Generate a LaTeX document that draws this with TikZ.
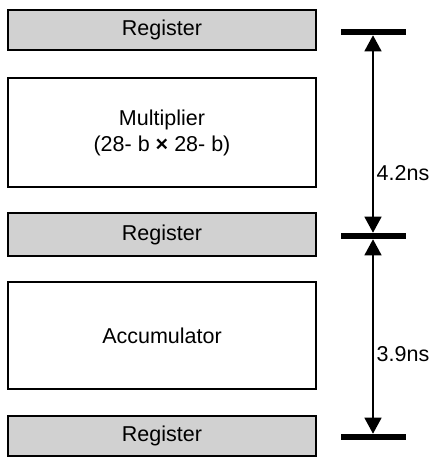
\documentclass[tikz,border=0pt]{standalone}
\usepackage{fontspec}
\setmainfont{Liberation Sans}
\usetikzlibrary{arrows.meta}

\begin{document}
\begin{tikzpicture}[x=1pt,y=-1pt,
    every node/.style={font=\fontsize{21.5}{25}\selectfont},
    reg/.style={draw, line width=1.4pt, fill=black!18, minimum width=308pt, minimum height=40pt, inner sep=0pt},
    unit/.style={draw, line width=1.4pt, fill=white, minimum width=308pt, inner sep=0pt, align=center},
    bar/.style={line width=6.5pt},
    dim/.style={line width=1.4pt, {Triangle[width=17pt,length=16pt]}-{Triangle[width=17pt,length=16pt]}, shorten <=3.3pt, shorten >=3.3pt}]
    \useasboundingbox (0,0) rectangle (439,459);
    \node[reg] (r1) at (162,30) {Register}; % input register
    \node[unit, minimum height=109pt] (mul) at (162,132.5) {Multiplier\\[1pt](28- b \textbf{×} 28- b)}; % multiplier
    \node[reg, minimum height=43pt] (r2) at (162,234.5) {Register}; % pipeline register
    \node[unit, minimum height=107pt] (acc) at (162,335.5) {Accumulator}; % accumulator
    \node[reg] (r3) at (162,436) {Register}; % output register
    \coordinate (t1) at (373,32);
    \coordinate (t2) at (373,236);
    \coordinate (t3) at (373,437);
    \draw[bar] ([xshift=-32pt]t1) -- ([xshift=33pt]t1); % top bar
    \draw[bar] ([xshift=-32pt]t2) -- ([xshift=33pt]t2); % middle bar
    \draw[bar] ([xshift=-32pt]t3) -- ([xshift=33pt]t3); % bottom bar
    \draw[dim] (t1) -- node[right, pos=0.69, inner sep=3pt] (d1) {4.2ns} (t2); % first stage
    \draw[dim] (t2) -- node[right, pos=0.59, inner sep=3pt] (d2) {3.9ns} (t3); % second stage
\end{tikzpicture}
\end{document}
